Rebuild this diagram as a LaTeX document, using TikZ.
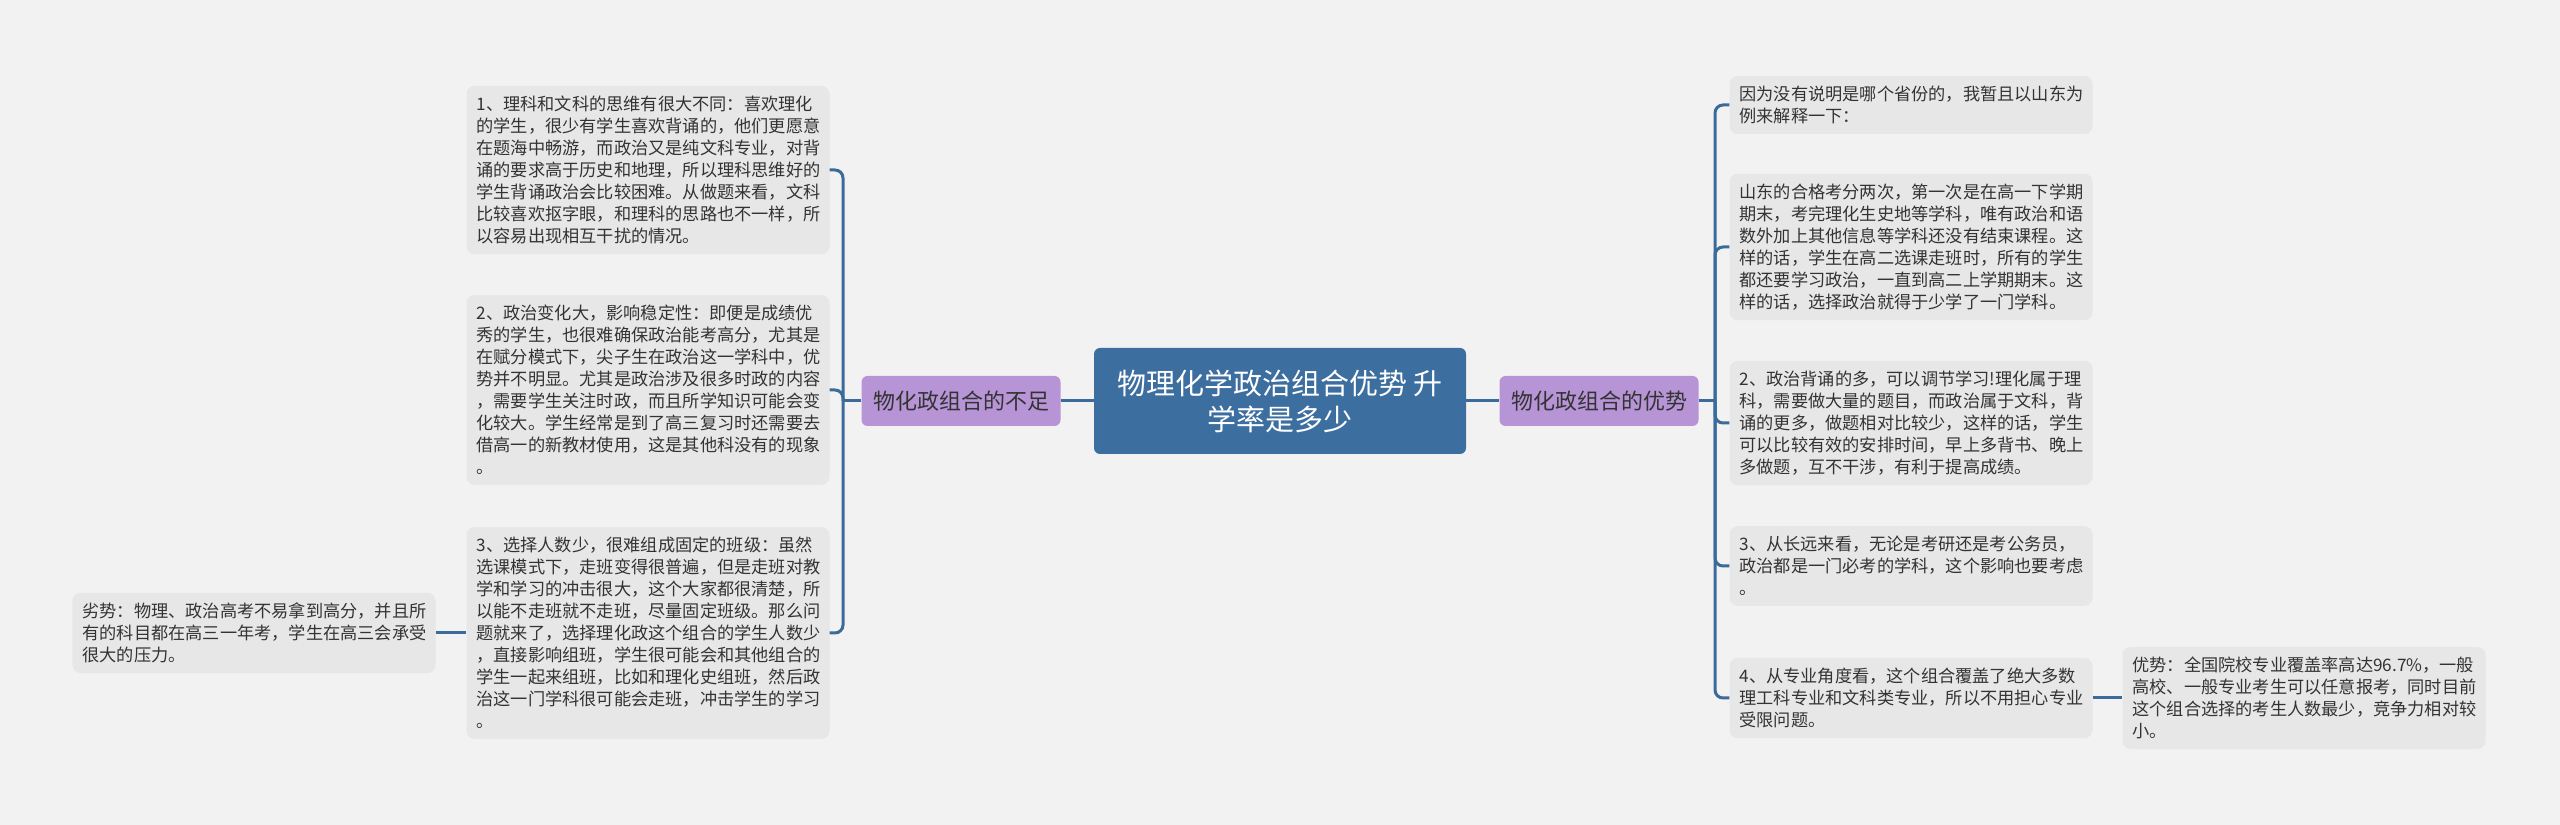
\documentclass[tikz,border=0pt]{standalone}
\usepackage{fontspec}
\setmainfont{Noto Sans CJK SC}
\definecolor{bgcol}{HTML}{F2F2F2}
\definecolor{leafcol}{HTML}{E7E7E7}
\definecolor{rootcol}{HTML}{3C6E9F}
\definecolor{branchcol}{HTML}{B794D6}
\definecolor{linkcol}{HTML}{3B6B9A}
\definecolor{textcol}{HTML}{333333}

\begin{document}
\begin{tikzpicture}[x=1bp,y=1bp,
  root/.style={fill=rootcol,rounded corners=6bp,minimum width=372bp,minimum height=106bp,
    align=center,text=white,font=\fontsize{29bp}{36bp}\selectfont},
  branch/.style={fill=branchcol,rounded corners=6bp,minimum width=199bp,minimum height=50bp,
    text=textcol,font=\fontsize{22bp}{26bp}\selectfont},
  leaf/.style={fill=leafcol,rounded corners=8bp,text width=343bp,inner xsep=10bp,inner ysep=10bp,
    align=left,text=textcol,font=\fontsize{17.2bp}{22bp}\selectfont},
  link/.style={draw=linkcol,line width=3bp,rounded corners=8bp}]
\useasboundingbox (0,0) rectangle (2560,825);
\fill[bgcol] (0,0) rectangle (2560,825);

\node[root] (root) at (1280,424) {物理化学政治组合优势 升\\学率是多少};
\node[branch] (weak) at (961,424) {物化政组合的不足};
\node[branch] (strong) at (1599,424) {物化政组合的优势};

% left side
\node[leaf] (w1) at (648,655) {1、理科和文科的思维有很大不同：喜欢理化\\的学生，很少有学生喜欢背诵的，他们更愿意\\在题海中畅游，而政治又是纯文科专业，对背\\诵的要求高于历史和地理，所以理科思维好的\\学生背诵政治会比较困难。从做题来看，文科\\比较喜欢抠字眼，和理科的思路也不一样，所\\以容易出现相互干扰的情况。};
\node[leaf] (w2) at (648,435) {2、政治变化大，影响稳定性：即便是成绩优\\秀的学生，也很难确保政治能考高分，尤其是\\在赋分模式下，尖子生在政治这一学科中，优\\势并不明显。尤其是政治涉及很多时政的内容\\，需要学生关注时政，而且所学知识可能会变\\化较大。学生经常是到了高三复习时还需要去\\借高一的新教材使用，这是其他科没有的现象\\。};
\node[leaf] (w3) at (648,192) {3、选择人数少，很难组成固定的班级：虽然\\选课模式下，走班变得很普遍，但是走班对教\\学和学习的冲击很大，这个大家都很清楚，所\\以能不走班就不走班，尽量固定班级。那么问\\题就来了，选择理化政这个组合的学生人数少\\，直接影响组班，学生很可能会和其他组合的\\学生一起来组班，比如和理化史组班，然后政\\治这一门学科很可能会走班，冲击学生的学习\\。};
\node[leaf] (wnote) at (254,192) {劣势：物理、政治高考不易拿到高分，并且所\\有的科目都在高三一年考，学生在高三会承受\\很大的压力。};

% right side
\node[leaf] (s1) at (1911,720) {因为没有说明是哪个省份的，我暂且以山东为\\例来解释一下：};
\node[leaf] (s2) at (1911,578) {山东的合格考分两次，第一次是在高一下学期\\期末，考完理化生史地等学科，唯有政治和语\\数外加上其他信息等学科还没有结束课程。这\\样的话，学生在高二选课走班时，所有的学生\\都还要学习政治，一直到高二上学期期末。这\\样的话，选择政治就得于少学了一门学科。};
\node[leaf] (s3) at (1911,402) {2、政治背诵的多，可以调节学习!理化属于理\\科，需要做大量的题目，而政治属于文科，背\\诵的更多，做题相对比较少，这样的话，学生\\可以比较有效的安排时间，早上多背书、晚上\\多做题，互不干涉，有利于提高成绩。};
\node[leaf] (s4) at (1911,259) {3、从长远来看，无论是考研还是考公务员，\\政治都是一门必考的学科，这个影响也要考虑\\。};
\node[leaf] (s5) at (1911,127) {4、从专业角度看，这个组合覆盖了绝大多数\\理工科专业和文科类专业，所以不用担心专业\\受限问题。};
\node[leaf] (snote) at (2304,127) {优势：全国院校专业覆盖率高达96.7\%，一般\\高校、一般专业考生可以任意报考，同时目前\\这个组合选择的考生人数最少，竞争力相对较\\小。};

\coordinate (wbus) at (843,424);
\coordinate (sbus) at (1715,424);

\draw[link] (root.west) -- (weak.east);
\draw[link] (root.east) -- (strong.west);
\draw[link] (weak.west) -- (wbus);
\draw[link] (strong.east) -- (sbus);
\foreach \n in {w1,w2,w3}
  \draw[link] (wbus) |- (\n.east);
\foreach \n in {s1,s2,s3,s4,s5}
  \draw[link] (sbus) |- (\n.west);
\draw[link] (wnote.east) -- (w3.west);
\draw[link] (s5.east) -- (snote.west);
\end{tikzpicture}
\end{document}
